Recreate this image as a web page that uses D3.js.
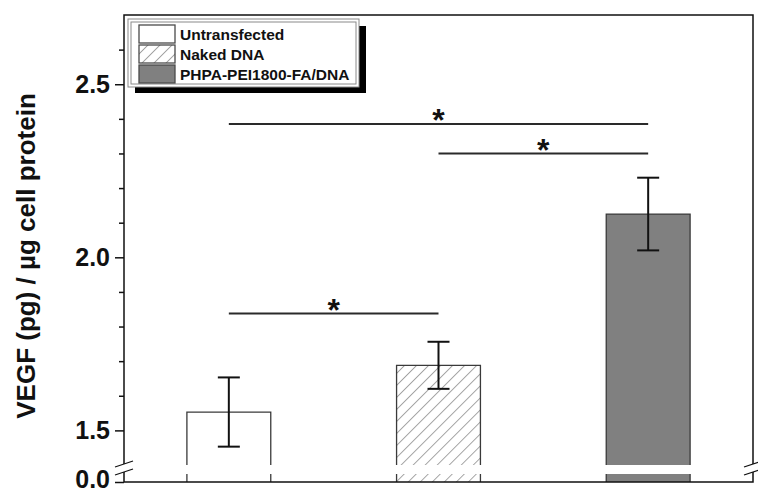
<!DOCTYPE html>
<html>
<head>
<meta charset="utf-8">
<script src="https://cdn.jsdelivr.net/npm/d3@7"></script>
<style>
  html, body { margin: 0; padding: 0; background: #fff; }
  svg { display: block; font-family: "Liberation Sans", Arial, sans-serif; }
</style>
</head>
<body>
<svg id="chart" width="758" height="493"></svg>
<script>
// Data
const categories = ["Untransfected", "Naked DNA", "PHPA-PEI1800-FA/DNA"];
const means = [1.553, 1.688, 2.125];
const errors = [0.100, 0.068, 0.105];

// Significance brackets: from group, to group, height (data units), label
const sigFrom = [0, 0, 1];
const sigTo = [1, 2, 2];
const sigLevel = [1.838, 2.385, 2.300];
const sigLabel = ["*", "*", "*"];

// Y axis ticks (upper segment and lower segment of the broken axis)
const majorTicks = [1.5, 2.0, 2.5];
const minorTicks = [1.6, 1.7, 1.8, 1.9, 2.1, 2.2, 2.3, 2.4, 2.6];
const lowTicks = [0.0];
const yTitle = "VEGF (pg) / \u00B5g cell protein";

// Layout
const plotL = 124, plotR = 753, plotT = 15, plotB = 482;
const svg = d3.select("#chart");

const x = d3.scalePoint().domain(categories).range([plotL, plotR]).padding(0.5);
const barW = x.step() * 0.4;

// Broken y axis: upper part 1.4–2.7, lower stub 0–0.1
const yTop = d3.scaleLinear().domain([1.4, 2.7]).range([465, plotT]);
const yBot = d3.scaleLinear().domain([0, 0.1]).range([plotB, 474]);
const brk1 = yTop.range()[0] - 1;
const brk2 = yBot.range()[1] - 2;

// Hatch pattern
const defs = svg.append("defs");
defs.append("pattern")
  .attr("id", "hatch")
  .attr("patternUnits", "userSpaceOnUse")
  .attr("width", 8.5).attr("height", 8.5)
  .attr("patternTransform", "rotate(45)")
  .append("line")
  .attr("x1", 0).attr("y1", 0).attr("x2", 0).attr("y2", 8.5)
  .attr("stroke", "#5e5e5e").attr("stroke-width", 1.1);

const fillOf = ["#ffffff", "url(#hatch)", "#808080"];
const outline = "#3a3a3a";

// Bars: upper segment and lower stub
const bars = svg.append("g");
categories.forEach((c, i) => {
  const x0 = x(c) - barW / 2, x1 = x(c) + barW / 2;
  const yv = yTop(means[i]), yb = yTop.range()[0];
  bars.append("rect")
    .attr("x", x0).attr("y", yv).attr("width", barW).attr("height", yb - yv)
    .attr("fill", fillOf[i]);
  bars.append("path")
    .attr("d", `M${x0},${yb}V${yv}H${x1}V${yb}`)
    .attr("fill", "none").attr("stroke", outline).attr("stroke-width", 1.3);
  const ly0 = yBot(0.1), ly1 = yBot(0);
  bars.append("rect")
    .attr("x", x0).attr("y", ly0).attr("width", barW).attr("height", ly1 - ly0)
    .attr("fill", fillOf[i]);
  bars.append("path")
    .attr("d", `M${x0},${ly1}V${ly0}M${x1},${ly0}V${ly1}`)
    .attr("fill", "none").attr("stroke", outline).attr("stroke-width", 1.3);
});

// Error bars
const eb = svg.append("g").attr("stroke", "#111").attr("stroke-width", 2);
categories.forEach((c, i) => {
  const cx = x(c), cap = 11;
  const hi = yTop(means[i] + errors[i]), lo = yTop(means[i] - errors[i]);
  eb.append("line").attr("x1", cx).attr("x2", cx).attr("y1", hi).attr("y2", lo);
  eb.append("line").attr("x1", cx - cap).attr("x2", cx + cap).attr("y1", hi).attr("y2", hi);
  eb.append("line").attr("x1", cx - cap).attr("x2", cx + cap).attr("y1", lo).attr("y2", lo);
});

// Significance brackets
const sig = svg.append("g");
const starSize = 32;
sigLevel.forEach((lv, k) => {
  const xa = x(categories[sigFrom[k]]), xb = x(categories[sigTo[k]]);
  const yy = yTop(lv);
  sig.append("line")
    .attr("x1", xa).attr("x2", xb).attr("y1", yy).attr("y2", yy)
    .attr("stroke", "#2a2a2a").attr("stroke-width", 2);
  sig.append("text")
    .attr("x", (xa + xb) / 2).attr("y", yy - 11 + 0.57 * starSize)
    .attr("text-anchor", "middle")
    .attr("font-size", starSize).attr("font-weight", "bold").attr("fill", "#111")
    .text(sigLabel[k]);
});

// Frame and axis lines
const frame = svg.append("g").attr("stroke", "#111").attr("stroke-width", 1.5).attr("fill", "none");
frame.append("path").attr("d", `M${plotL},${brk1}V${plotT}H${plotR}V${brk1}`);
frame.append("path").attr("d", `M${plotL},${brk2}V${plotB}H${plotR}V${brk2}`);
// break marks
[plotL, plotR].forEach(bx => {
  [brk1, brk2].forEach(by => {
    frame.append("line")
      .attr("x1", bx - 9).attr("y1", by + 3)
      .attr("x2", bx + 9).attr("y2", by - 3)
      .attr("stroke-width", 1.3);
  });
});

// Y axis ticks and labels
const fmt = d3.format(".1f");
function styleAxis(g) {
  g.select(".domain").remove();
  g.selectAll(".tick line").attr("stroke", "#111").attr("stroke-width", 1.5);
  g.selectAll(".tick text")
    .attr("font-family", "'Liberation Sans', Arial, sans-serif")
    .attr("font-size", 25).attr("font-weight", "bold").attr("fill", "#111");
}
svg.append("g").attr("transform", `translate(${plotL},0)`)
  .call(d3.axisLeft(yTop).tickValues(majorTicks).tickSize(9).tickPadding(5).tickFormat(fmt))
  .call(styleAxis);
svg.append("g").attr("transform", `translate(${plotL},0)`)
  .call(d3.axisLeft(yTop).tickValues(minorTicks).tickSize(5).tickFormat(""))
  .call(styleAxis);
svg.append("g").attr("transform", `translate(${plotL},0)`)
  .call(d3.axisLeft(yBot).tickValues(lowTicks).tickSize(9).tickPadding(5).tickFormat(fmt))
  .call(styleAxis)
  .selectAll(".tick text").attr("dy", "0.22em");

// Y axis title
svg.append("text")
  .attr("transform", "translate(26,256) rotate(-90)")
  .attr("text-anchor", "middle").attr("dominant-baseline", "central")
  .attr("font-size", 26).attr("font-weight", "bold").attr("fill", "#111")
  .text(yTitle);

// Legend
const lg = svg.append("g");
lg.append("rect").attr("x", 135).attr("y", 26).attr("width", 231).attr("height", 67).attr("fill", "#000");
lg.append("rect").attr("x", 128).attr("y", 19).attr("width", 231).attr("height", 68)
  .attr("fill", "#fff").attr("stroke", "#8a8a8a").attr("stroke-width", 1);
lg.append("rect").attr("x", 131).attr("y", 22).attr("width", 225).attr("height", 62)
  .attr("fill", "none").attr("stroke", "#8a8a8a").attr("stroke-width", 1);
categories.forEach((c, i) => {
  const yy = 25 + 20 * i;
  lg.append("rect").attr("x", 139).attr("y", yy).attr("width", 36).attr("height", 18)
    .attr("fill", fillOf[i]).attr("stroke", "#4a4a4a").attr("stroke-width", 1.3);
  lg.append("text").attr("x", 180).attr("y", yy + 14.5)
    .attr("font-size", 15.5).attr("font-weight", "bold").attr("fill", "#111")
    .text(c);
});
</script>
</body>
</html>
